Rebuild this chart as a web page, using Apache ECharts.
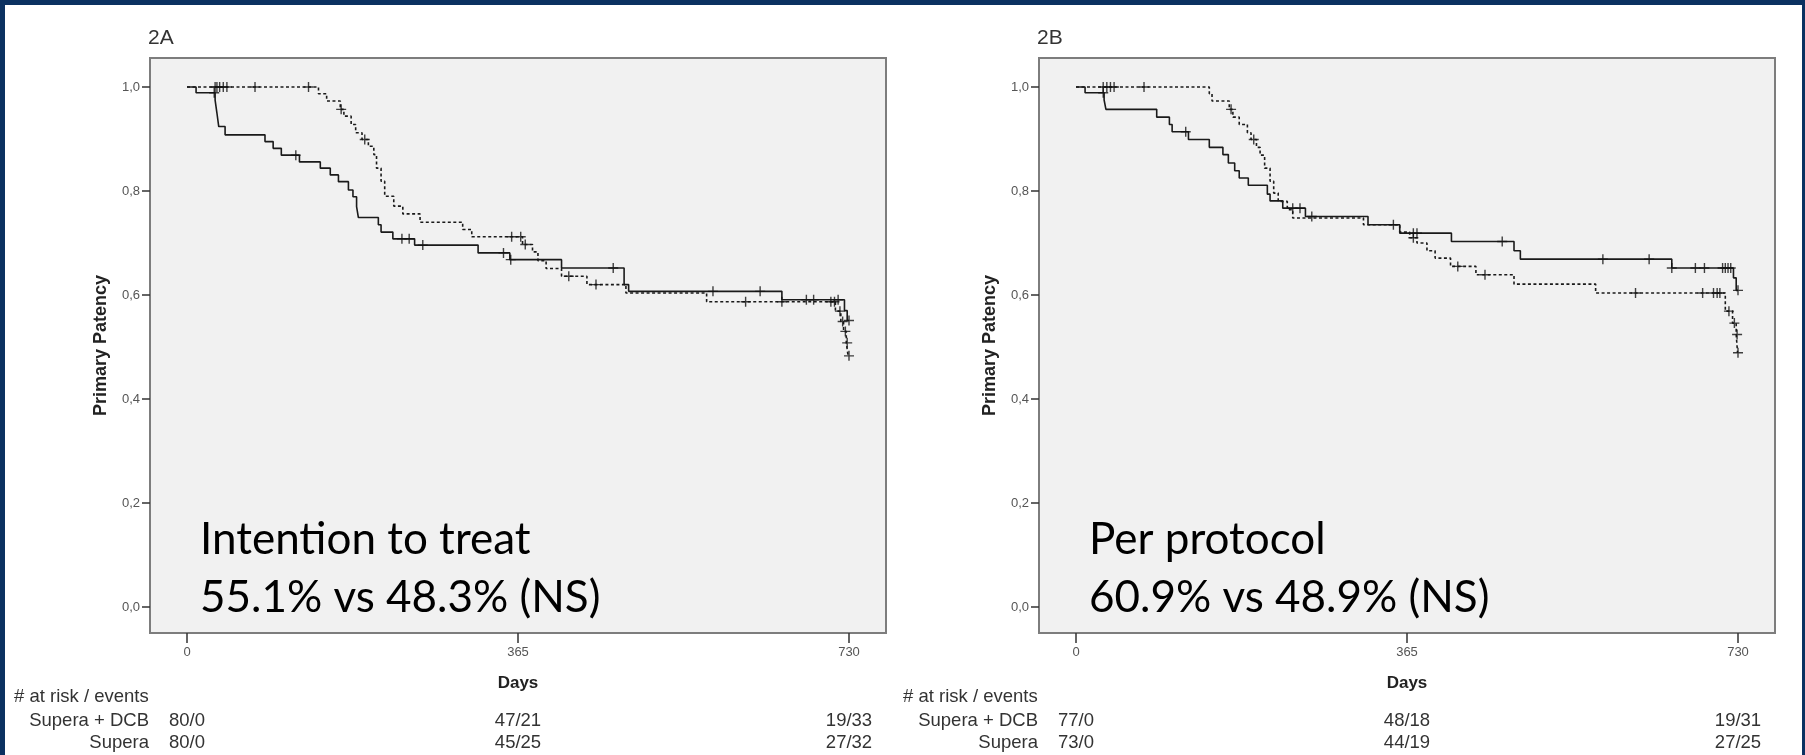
<!DOCTYPE html>
<html>
<head>
<meta charset="utf-8">
<script src="https://cdn.jsdelivr.net/npm/echarts@6/dist/echarts.min.js"></script>
<style>
html,body{margin:0;padding:0;background:#0b3161;}
#chart{width:1805px;height:755px;}
</style>
</head>
<body>
<div id="chart"></div>
<script>
// ---------- DATA ----------
const xTicks = [0, 365, 730];
const yTicks = [0, 0.2, 0.4, 0.6, 0.8, 1.0];

// Panel 2A (Intention to treat) — KM step points [day, survival]
const A_solid_steps = [[0,1.000],[10,0.989],[31,0.975],[33,0.950],[35,0.924],[42,0.908],[86,0.895],[95,0.882],[104,0.869],[124,0.856],[147,0.844],[158,0.831],[167,0.818],[178,0.802],[183,0.789],[187,0.770],[189,0.749],[211,0.735],[214,0.721],[227,0.708],[251,0.696],[321,0.681],[356,0.668],[413,0.652],[482,0.620],[487,0.607],[656,0.591],[725,0.570],[728,0.551]];
const A_solid_censor = [30, 120, 237, 245, 260, 349, 357, 470, 580, 632, 683, 691, 718, 730];
const A_dash_steps = [[0,1.000],[145,0.987],[154,0.973],[169,0.957],[173,0.944],[181,0.928],[186,0.912],[193,0.899],[200,0.886],[206,0.870],[209,0.844],[214,0.819],[218,0.790],[228,0.771],[238,0.756],[257,0.740],[304,0.726],[314,0.712],[370,0.697],[381,0.683],[387,0.666],[396,0.651],[413,0.636],[441,0.620],[484,0.604],[573,0.587],[715,0.569],[721,0.549],[724,0.530],[727,0.508],[729,0.483]];
const A_dash_censor = [31, 33, 36, 40, 44, 75, 134, 170, 196, 358, 368, 373, 421, 451, 616, 656, 710, 714, 720, 723, 726, 728, 730];

// Panel 2B (Per protocol)
const B_solid_steps = [[0,1.000],[10,0.989],[31,0.975],[33,0.957],[89,0.942],[103,0.928],[106,0.914],[124,0.899],[147,0.884],[162,0.870],[168,0.854],[175,0.839],[180,0.825],[190,0.811],[211,0.794],[214,0.781],[228,0.767],[253,0.751],[322,0.735],[357,0.719],[414,0.703],[483,0.685],[490,0.669],[657,0.652],[725,0.633],[728,0.609]];
const B_solid_censor = [30, 121, 239, 247, 260, 350, 372, 376, 470, 581, 632, 657, 683, 693, 713, 716, 719, 722, 730];
const B_dash_steps = [[0,1.000],[147,0.987],[150,0.973],[169,0.957],[173,0.942],[180,0.928],[189,0.912],[193,0.899],[199,0.884],[203,0.869],[208,0.844],[214,0.819],[218,0.796],[223,0.780],[233,0.764],[239,0.748],[317,0.735],[357,0.721],[368,0.710],[376,0.700],[387,0.685],[396,0.671],[413,0.655],[441,0.639],[483,0.621],[573,0.604],[716,0.569],[724,0.546],[728,0.524],[729.5,0.489]];
const B_dash_censor = [30, 34, 38, 42, 75, 171, 196, 372, 421, 451, 617, 691, 703, 707, 710, 720, 726, 729, 730];

// At-risk table
const riskRows = ['Supera + DCB', 'Supera'];
const A_risk = [['80/0','47/21','19/33'],['80/0','45/25','27/32']];
const B_risk = [['77/0','48/18','19/31'],['73/0','44/19','27/25']];
const panelTitles = ['2A', '2B'];
const notesA = ['Intention to treat', '55.1% vs 48.3% (NS)'];
const notesB = ['Per protocol', '60.9% vs 48.9% (NS)'];

// ---------- HELPERS ----------
function valueAt(steps, d){ let v = steps[0][1]; for (const s of steps){ if (s[0] <= d) v = s[1]; } return v; }
function lineData(steps, censor){
  const out = steps.slice();
  const last = Math.max(...censor);
  if (last > steps[steps.length-1][0]) out.push([last, steps[steps.length-1][1]]);
  return out;
}
function censorData(steps, censor){ return censor.map(d => [d, valueAt(steps, d)]); }

const FONT = '"Liberation Sans", Arial, sans-serif';
const PLUS = 'path://M4.3,0h1.4v4.3h4.3v1.4h-4.3v4.3h-1.4v-4.3h-4.3v-1.4h4.3z';

function xAxis(i){
  return {
    type:'value', gridIndex:i, min:-40.8, max:770.8,
    name:'Days', nameLocation:'middle', nameGap:42,
    nameTextStyle:{fontFamily:FONT, fontSize:17, fontWeight:'bold', color:'#222'},
    axisLine:{show:false, onZero:false}, splitLine:{show:false},
    axisTick:{show:true, length:10, customValues:xTicks, lineStyle:{color:'#333', width:1.5}},
    axisLabel:{customValues:xTicks, margin:13, fontFamily:FONT, fontSize:13, color:'#555'}
  };
}
function yAxis(i){
  return {
    type:'value', gridIndex:i, min:-0.05, max:1.0558,
    name:'Primary Patency', nameLocation:'middle', nameGap:40, nameRotate:90,
    nameTextStyle:{fontFamily:FONT, fontSize:18, fontWeight:'bold', color:'#222'},
    axisLine:{show:false, onZero:false}, splitLine:{show:false},
    axisTick:{show:true, length:8, customValues:yTicks, lineStyle:{color:'#333', width:1.5}},
    axisLabel:{customValues:yTicks, margin:10, fontFamily:FONT, fontSize:13, color:'#555',
      formatter: v => v.toFixed(1).replace('.', ',')}
  };
}
function kmSeries(i, steps, censor, dashed, name){
  return [{
    type:'line', name:name, xAxisIndex:i, yAxisIndex:i, step:'end', showSymbol:false,
    data: lineData(steps, censor), animation:false, z:3,
    lineStyle:{color:'#1a1a1a', width:1.6, type: dashed ? [3,2.5] : 'solid'}
  },{
    type:'scatter', name:name+' censored', xAxisIndex:i, yAxisIndex:i,
    symbol:PLUS, symbolSize:10, data: censorData(steps, censor), animation:false, z:4,
    itemStyle:{color:'#111'}
  }];
}

const chart = echarts.init(document.getElementById('chart'));
const grids = [
  {left:150, top:58, width:736, height:575},
  {left:1039, top:58, width:736, height:575}
];
chart.setOption({
  backgroundColor:'#0b3161',
  animation:false,
  grid: grids.map(g => Object.assign({show:true, backgroundColor:'#f1f1f1', borderColor:'#7d7d7d', borderWidth:2}, g)),
  xAxis:[xAxis(0), xAxis(1)],
  yAxis:[yAxis(0), yAxis(1)],
  series:[
    ...kmSeries(0, A_solid_steps, A_solid_censor, false, 'Supera + DCB'),
    ...kmSeries(0, A_dash_steps, A_dash_censor, true, 'Supera'),
    ...kmSeries(1, B_solid_steps, B_solid_censor, false, 'Supera + DCB'),
    ...kmSeries(1, B_dash_steps, B_dash_censor, true, 'Supera')
  ]
});

// graphic: panel, titles, notes, risk table
const g = [{type:'rect', z:-10, shape:{x:5, y:5, width:1797, height:750}, style:{fill:'#ffffff'}, silent:true}];
[0,1].forEach(i => {
  const gl = grids[i].left;
  g.push({type:'text', x:gl-2, y:49, style:{text:panelTitles[i], font:'21px '+FONT, fill:'#333', verticalAlign:'bottom'}});
  const notes = i===0 ? notesA : notesB;
  g.push({type:'text', x:gl+50, y:562, z:10, style:{text:notes[0], font:'44px Lato', fill:'#000', verticalAlign:'bottom'}});
  g.push({type:'text', x:gl+50, y:620, z:10, style:{text:notes[1], font:'44px Lato', fill:'#000', verticalAlign:'bottom'}});
  const x0 = chart.convertToPixel({xAxisIndex:i}, 0);
  g.push({type:'text', x:x0-173, y:697, style:{text:'# at risk / events', font:'18.5px '+FONT, fill:'#333', verticalAlign:'middle'}});
  const risk = i===0 ? A_risk : B_risk;
  riskRows.forEach((r, ri) => {
    const yy = ri===0 ? 721 : 743;
    g.push({type:'text', x:x0-38, y:yy, style:{text:r, font:'18.5px '+FONT, fill:'#333', align:'right', verticalAlign:'middle'}});
    xTicks.forEach((d, ci) => {
      const px = chart.convertToPixel({xAxisIndex:i}, d);
      g.push({type:'text', x:px, y:yy, style:{text:risk[ri][ci], font:'18.5px '+FONT, fill:'#333', align:'center', verticalAlign:'middle'}});
    });
  });
});
chart.setOption({graphic:g});
</script>
</body>
</html>
